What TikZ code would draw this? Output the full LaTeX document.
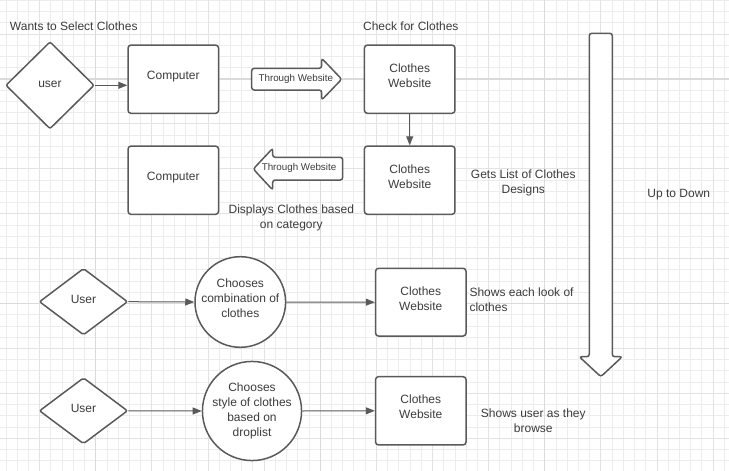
\documentclass[tikz,border=0pt]{standalone}
\usepackage{fontspec}
\setmainfont{Liberation Sans}
\usetikzlibrary{shapes.geometric,arrows.meta}
\definecolor{lc}{HTML}{5A5A5A}
\definecolor{tc}{HTML}{3C3C3C}
\definecolor{gminor}{HTML}{EDEDED}
\definecolor{gmed}{HTML}{E3E3E3}
\definecolor{gmaj}{HTML}{DADADA}
\newcommand\upt[2][2.5pt]{\raisebox{#1}[\height][\depth]{\begin{tabular}{@{}c@{}}#2\end{tabular}}}
\begin{document}
\begin{tikzpicture}[x=1pt,y=-1pt,
  txt/.style={font=\fontsize{12}{15}\selectfont, text=tc, align=center, inner sep=0pt},
  smalltxt/.style={font=\fontsize{9.8}{12}\selectfont, text=tc, align=center, inner sep=0pt},
  shapeline/.style={draw=lc, line width=1.5pt, fill=white},
  box/.style={shapeline, rounded corners=3pt, minimum width=90.5pt, minimum height=68.3pt, inner sep=0pt, txt},
  dia/.style={shapeline, diamond, rounded corners=2pt, inner sep=0pt, txt},
  circ/.style={shapeline, circle, inner sep=0pt, txt},
  conn/.style={draw=lc, line width=1pt, -{Triangle[length=9pt,width=7pt]}}
]
\useasboundingbox (0,0) rectangle (729,471);
\fill[white] (0,0) rectangle (729,471);
\begin{scope}
\clip (0,0) rectangle (729,471);
% grid
\foreach \k in {0,...,64} \draw[gminor, line width=0.8pt] ({5.9+\k*11.225},0) -- ({5.9+\k*11.225},471);
\foreach \k in {0,...,42} \draw[gminor, line width=0.8pt] (0,{0.4+\k*11.225}) -- (729,{0.4+\k*11.225});
\foreach \k in {3,8,...,63} \draw[gmed, line width=0.9pt] ({5.9+\k*11.225},0) -- ({5.9+\k*11.225},471);
\foreach \k in {3,7,...,39} \draw[gmed, line width=0.9pt] (0,{0.4+\k*11.225}) -- (729,{0.4+\k*11.225});
\foreach \k in {8,28,48} \draw[gmaj, line width=1.4pt] ({5.9+\k*11.225},0) -- ({5.9+\k*11.225},471);
\foreach \k in {7,27} \draw[gmaj, line width=1.4pt] (0,{0.4+\k*11.225}) -- (729,{0.4+\k*11.225});
\end{scope}

% free texts
\node[txt] (t1) at (73.8,26.5) {Wants to Select Clothes};
\node[txt] (t2) at (410.8,26.7) {Check for Clothes};
\node[txt] (t3) at (523.3,183.2) {Gets List of Clothes\\Designs};
\node[txt] (t4) at (291.3,217.5) {Displays Clothes based\\on category};
\node[txt] (t5) at (678.8,195) {Up to Down};
\node[txt, align=left, anchor=west] (t6) at (469.3,300.2) {Shows each look of\\clothes};
\node[txt] (t7) at (533.3,421.2) {Shows user as they\\browse};

% row 1
\node[dia, minimum width=88.6pt, minimum height=87.3pt] (u1) at (50,85.3) {\upt[1pt]{user}};
\node[box] (c1) at (173.3,79.2) {\upt{Computer}};
\node[box] (w1) at (409.7,79.2) {\upt{Clothes\\Website}};
\draw[shapeline, rounded corners=2.5pt] (251.7,68.3) -- (321.7,68.3) -- (321.7,58.3) -- (341.7,79.2) -- (321.7,100) -- (321.7,90) -- (251.7,90) -- cycle;
\node[smalltxt] (a1) at (295.8,78.6) {Through Website};

% row 2
\node[box] (c2) at (173.3,180.2) {\upt{Computer}};
\node[box] (w2) at (409.7,180.2) {\upt{Clothes\\Website}};
\draw[shapeline, rounded corners=2.5pt] (342.7,157.3) -- (272.7,157.3) -- (272.7,148.3) -- (253.3,169) -- (272.7,190) -- (272.7,180) -- (342.7,180) -- cycle;
\node[smalltxt] (a2) at (299,168.4) {Through Website};

% big arrow
\draw[shapeline, rounded corners=2.5pt] (589.3,33.3) -- (612.3,33.3) -- (612.3,356.7) -- (622.3,356.7) -- (600.8,376.7) -- (579.3,356.7) -- (589.3,356.7) -- cycle;

% row 3
\node[dia, minimum width=88.4pt, minimum height=66.7pt] (u3) at (83.5,301.7) {\upt[1pt]{User}};
\node[circ, minimum size=90.6pt] (ch3) at (240.3,302) {\upt[3pt]{Chooses\\combination of\\clothes}};
\node[box, minimum height=67.7pt] (w3) at (420.8,302.2) {\upt{Clothes\\Website}};

% row 4
\node[dia, minimum width=88.4pt, minimum height=66.3pt] (u4) at (83.5,410.8) {\upt[1.5pt]{User}};
\node[circ, minimum size=89.4pt] (ch4) at (252,411) {\upt[0.5pt]{Chooses\\style of clothes\\based on\\droplist}};
\node[box] (w4) at (420.8,410.8) {\upt{Clothes\\Website}};

% connectors
\draw[conn] (u1.east) -- (c1.west |- u1.east);
\draw[conn] (w1.south) -- (w2.north);
\draw[conn] (u3.east) -- (ch3.west);
\draw[conn] (ch3.east) -- (w3.west);
\draw[conn] (u4.east) -- (ch4.west);
\draw[conn] (ch4.east) -- (w4.west);
\end{tikzpicture}
\end{document}
